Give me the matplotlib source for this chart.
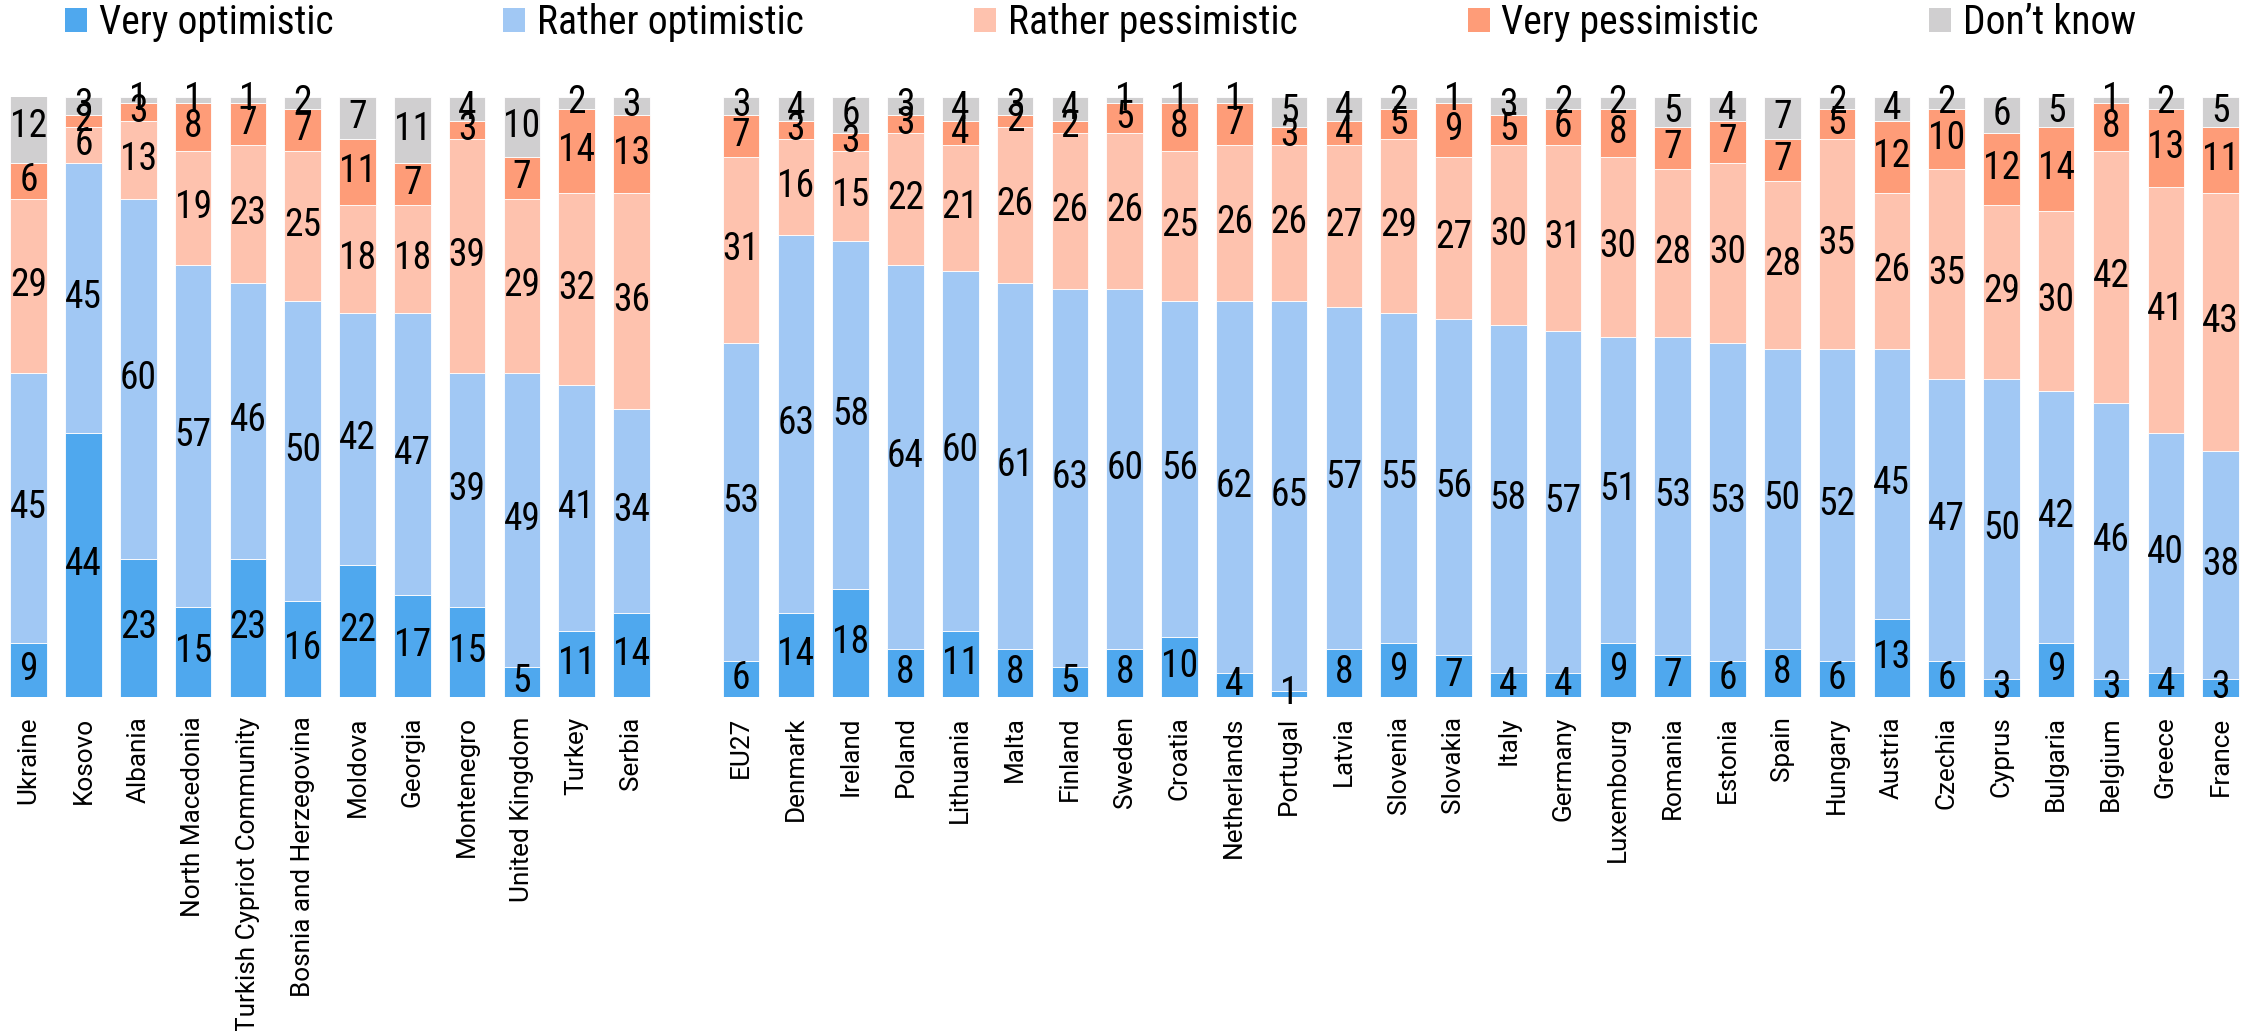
import numpy as np
import matplotlib.pyplot as plt
from matplotlib.patches import Patch
from matplotlib import font_manager

# countries outside the EU (left group) and EU27 + member states (right group)
left_countries = ['Ukraine', 'Kosovo', 'Albania', 'North Macedonia', 'Turkish Cypriot Community',
                  'Bosnia and Herzegovina', 'Moldova', 'Georgia', 'Montenegro', 'United Kingdom',
                  'Turkey', 'Serbia']
right_countries = ['EU27', 'Denmark', 'Ireland', 'Poland', 'Lithuania', 'Malta', 'Finland', 'Sweden',
                   'Croatia', 'Netherlands', 'Portugal', 'Latvia', 'Slovenia', 'Slovakia', 'Italy',
                   'Germany', 'Luxembourg', 'Romania', 'Estonia', 'Spain', 'Hungary', 'Austria',
                   'Czechia', 'Cyprus', 'Bulgaria', 'Belgium', 'Greece', 'France']

very_opt_left = [9, 44, 23, 15, 23, 16, 22, 17, 15, 5, 11, 14]
rather_opt_left = [45, 45, 60, 57, 46, 50, 42, 47, 39, 49, 41, 34]
rather_pess_left = [29, 6, 13, 19, 23, 25, 18, 18, 39, 29, 32, 36]
very_pess_left = [6, 2, 3, 8, 7, 7, 11, 7, 3, 7, 14, 13]
dont_know_left = [12, 3, 1, 1, 1, 2, 7, 11, 4, 10, 2, 3]

very_opt_right = [6, 14, 18, 8, 11, 8, 5, 8, 10, 4, 1, 8, 9, 7, 4, 4, 9, 7, 6, 8, 6, 13, 6, 3, 9, 3, 4, 3]
rather_opt_right = [53, 63, 58, 64, 60, 61, 63, 60, 56, 62, 65, 57, 55, 56, 58, 57, 51, 53, 53, 50, 52,
                    45, 47, 50, 42, 46, 40, 38]
rather_pess_right = [31, 16, 15, 22, 21, 26, 26, 26, 25, 26, 26, 27, 29, 27, 30, 31, 30, 28, 30, 28, 35,
                     26, 35, 29, 30, 42, 41, 43]
very_pess_right = [7, 3, 3, 3, 4, 2, 2, 5, 8, 7, 3, 4, 5, 9, 5, 6, 8, 7, 7, 7, 5, 12, 10, 12, 14, 8, 13, 11]
dont_know_right = [3, 4, 6, 3, 4, 3, 4, 1, 1, 1, 5, 4, 2, 1, 3, 2, 2, 5, 4, 7, 2, 4, 2, 6, 5, 1, 2, 5]

series_names = ['Very optimistic', 'Rather optimistic', 'Rather pessimistic', 'Very pessimistic', 'Don\u2019t know']
colors = ['#4fa8ee', '#a1c8f4', '#fec2ae', '#fe9c78', '#d0cfd0']

# pick a narrow face if one is installed
installed = {f.name for f in font_manager.fontManager.ttflist}
narrow = [f for f in ['Roboto Condensed', 'Liberation Sans Narrow', 'Open Sans Condensed', 'Roboto']
          if f in installed]
label_font = narrow[:1] + ['DejaVu Sans']
condensed = label_font[0] != 'Roboto'
value_size = 27 if condensed else 23
legend_size = 28.5 if condensed else 24
tick_font = ['Roboto', 'DejaVu Sans']

x_left = np.arange(len(left_countries))
x_right = np.arange(len(right_countries)) + len(left_countries) + 1  # one empty slot between groups

series = [
    (very_opt_left, very_opt_right),
    (rather_opt_left, rather_opt_right),
    (rather_pess_left, rather_pess_right),
    (very_pess_left, very_pess_right),
    (dont_know_left, dont_know_right),
]

fig = plt.figure(figsize=(22.59, 10.31), dpi=100)
ax = fig.add_axes([0, 0.324, 1, 0.582])

bottom_l = np.zeros(len(x_left))
bottom_r = np.zeros(len(x_right))
for (vals_l, vals_r), name, col in zip(series, series_names, colors):
    for xs, vals, bottom in ((x_left, vals_l, bottom_l), (x_right, vals_r, bottom_r)):
        vals = np.array(vals, dtype=float)
        ax.bar(xs, vals, bottom=bottom, width=0.666, color=col, edgecolor='white', linewidth=0.6)
        for xi, v, b in zip(xs, vals, bottom):
            ax.text(xi, b + v / 2, f'{int(v)}', ha='center', va='center', fontsize=value_size,
                    family=label_font, color='black')
        bottom += vals

ax.set_xlim(-0.524, 40.70)
ax.set_ylim(0, 100)
ax.set_xticks(list(x_left) + list(x_right))
ax.set_xticklabels(left_countries + right_countries, rotation=90, fontsize=18.8, family=tick_font)
ax.tick_params(axis='x', length=0, pad=14)
ax.set_yticks([])
for s in ax.spines.values():
    s.set_visible(False)

handles = [Patch(facecolor=c, edgecolor='none') for c in colors]
fig.legend(handles, series_names, loc='upper left', bbox_to_anchor=(65 / 2259, 1 - 3 / 1031),
           ncol=5, frameon=False, prop={'family': label_font, 'size': legend_size},
           handlelength=0.55, handleheight=0.55, handletextpad=0.3,
           columnspacing=4.3 if condensed else 3.4, borderpad=0, borderaxespad=0)

fig.savefig('out.png', dpi=100)
